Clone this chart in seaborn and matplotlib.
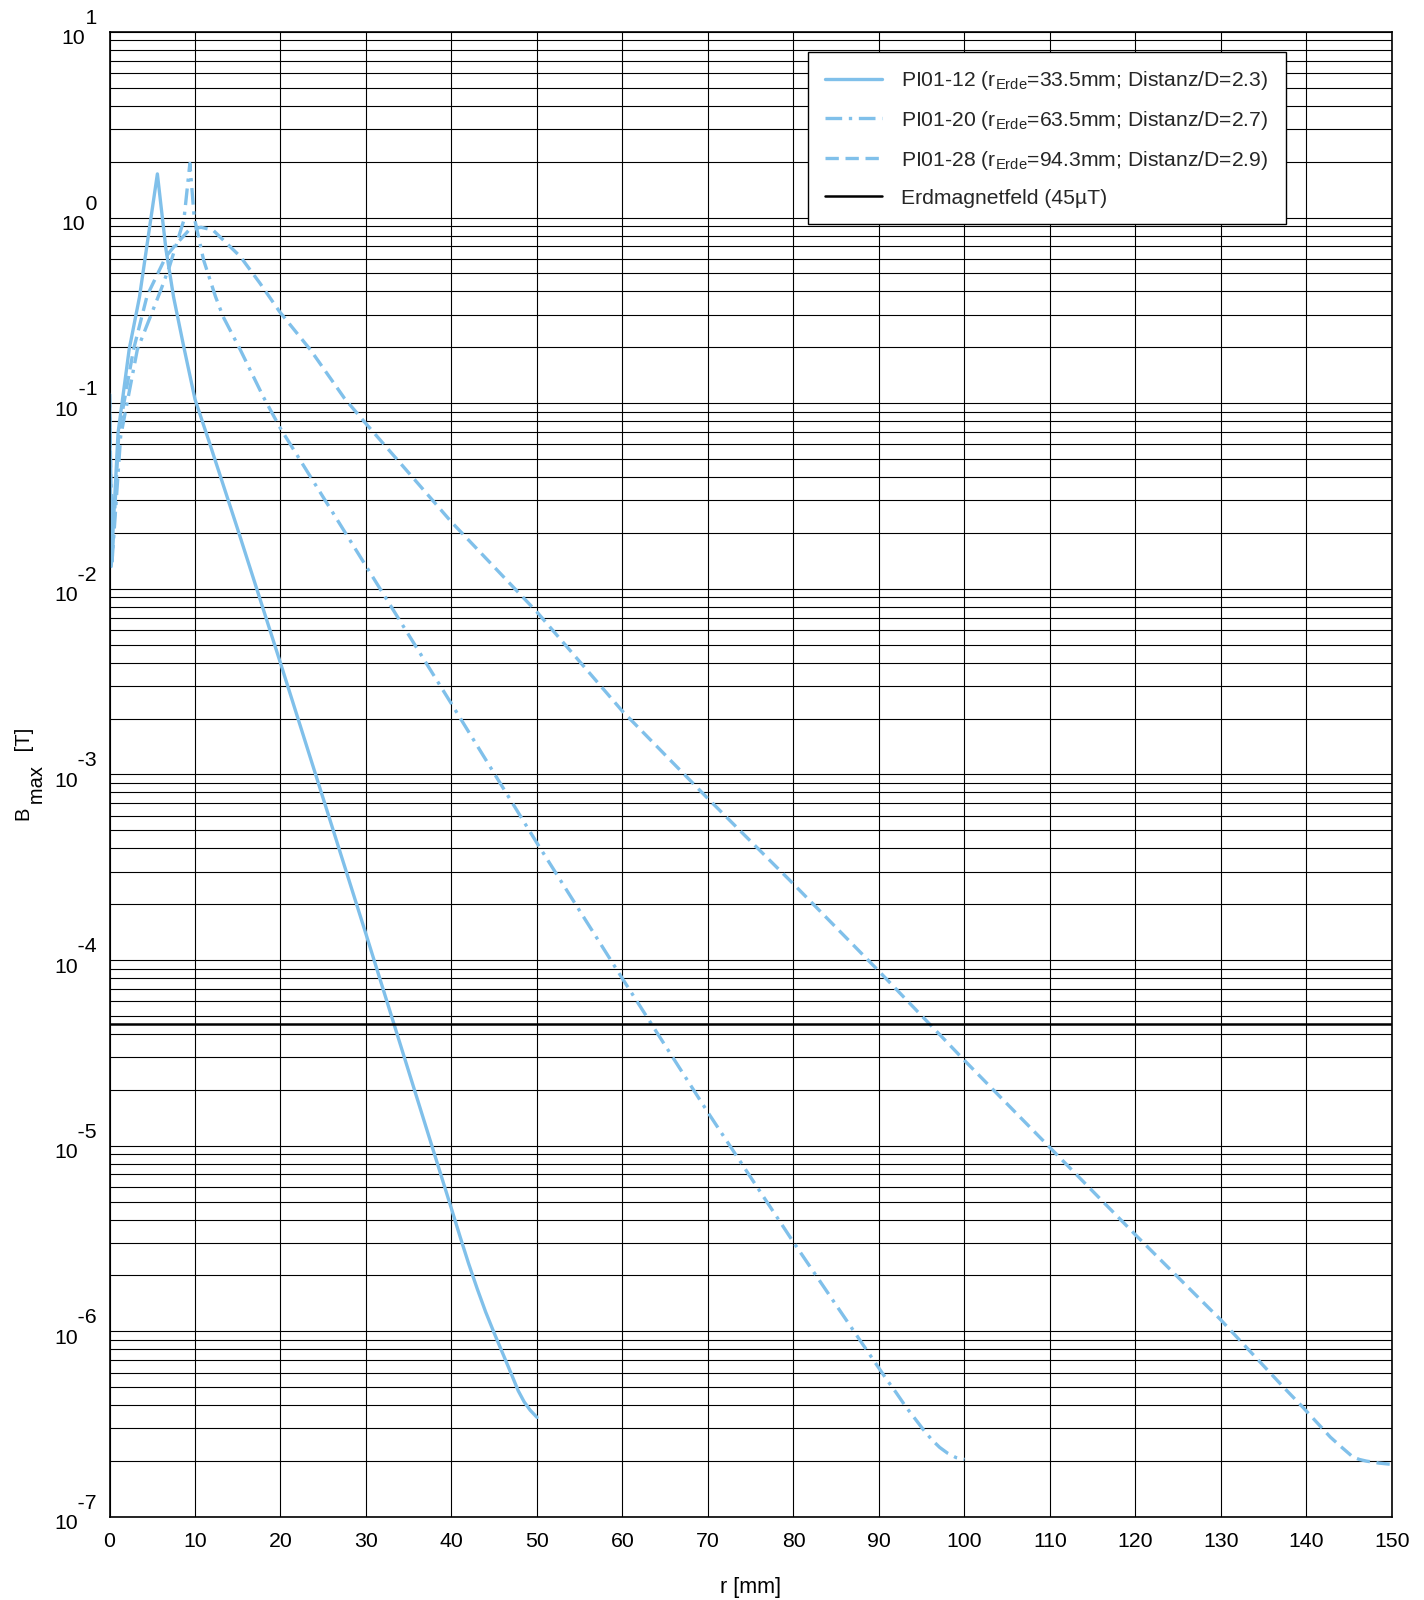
import matplotlib
matplotlib.use("Agg")
import numpy as np
import pandas as pd
import matplotlib.pyplot as plt
import matplotlib.transforms as mtransforms
import seaborn as sns
from matplotlib.ticker import LogLocator, NullFormatter

# ---------------- data ----------------
r_pi12 = [0, 0.2, 1.0, 2.3, 3.5, 4.6, 5.6, 6.6, 7.5, 8.7, 10, 11.6, 15, 20, 25, 30,
          35, 40, 41, 42, 43, 44, 45, 46, 47, 47.8, 48.5, 49.2, 50]
B_pi12 = [0.112, 0.0132, 0.0692, 0.195, 0.372, 0.832, 1.72, 0.676, 0.372, 0.200, 0.105,
          0.0631, 0.0209, 3.98e-3, 7.41e-4, 1.38e-4, 2.51e-5, 4.57e-6, 3.24e-6, 2.32e-6,
          1.70e-6, 1.27e-6, 9.77e-7, 7.59e-7, 5.89e-7, 4.79e-7, 4.17e-7, 3.76e-7, 3.44e-7]

r_pi20 = [0, 0.3, 1.3, 3.25, 6.0, 7.0, 8.7, 9.4, 9.9, 11.0, 12.4, 13.3, 15.3, 18, 20,
          30, 40, 50, 60, 70, 80, 90.9, 92, 93.2, 94.2, 95.2, 96.2, 97.1, 98, 99, 100]
B_pi20 = [0.112, 0.0141, 0.0661, 0.194, 0.407, 0.543, 0.970, 1.96, 1.01, 0.592, 0.375,
          0.292, 0.194, 0.108, 0.0731, 0.01327, 2.40e-3, 4.27e-4, 7.94e-5, 1.51e-5,
          3.02e-6, 5.50e-7, 4.68e-7, 3.89e-7, 3.39e-7, 2.95e-7, 2.60e-7, 2.37e-7,
          2.21e-7, 2.09e-7, 2.04e-7]

r_pi28 = [0, 0.3, 1.1, 2.8, 4.4, 6.6, 7.7, 9.3, 10.7, 12.1, 15.3, 17.6, 19.9, 23.5,
          27.5, 30, 40, 50, 60, 70, 80, 90, 100, 110, 120, 130, 137.3, 139.6, 141.6,
          142.8, 144, 145.4, 146.2, 147, 148.5, 150]
B_pi28 = [0.112, 0.0141, 0.0708, 0.194, 0.380, 0.617, 0.711, 0.857, 0.887, 0.857, 0.617,
          0.443, 0.311, 0.194, 0.106, 0.0776, 0.0229, 7.50e-3, 2.19e-3, 7.41e-4, 2.57e-4,
          8.71e-5, 2.88e-5, 9.77e-6, 3.31e-6, 1.15e-6, 5.01e-7, 3.89e-7, 3.09e-7,
          2.69e-7, 2.40e-7, 2.11e-7, 2.04e-7, 2.0e-7, 1.95e-7, 1.92e-7]

earth_field = 45e-6

series_labels = [
    r"PI01-12 (r$_{\mathregular{Erde}}$=33.5mm; Distanz/D=2.3)",
    r"PI01-20 (r$_{\mathregular{Erde}}$=63.5mm; Distanz/D=2.7)",
    r"PI01-28 (r$_{\mathregular{Erde}}$=94.3mm; Distanz/D=2.9)",
]
earth_label = "Erdmagnetfeld (45µT)"

x_ticks = list(range(0, 151, 10))
y_exponents = list(range(-7, 2))

# ---------------- style ----------------
sns.set_theme(style="white")
plt.rcParams["font.family"] = ["Liberation Sans", "DejaVu Sans"]
plt.rcParams["mathtext.default"] = "regular"

curve_color = "#80c0ea"
LW = 2.4

fig = plt.figure(figsize=(14.24, 16), dpi=100)
ax = fig.add_axes([0.0769, 0.0519, 0.9006, 0.9281])

sns.lineplot(x=r_pi12, y=B_pi12, ax=ax, color=curve_color, lw=LW,
             linestyle="-", label=series_labels[0], sort=False)
sns.lineplot(x=r_pi20, y=B_pi20, ax=ax, color=curve_color, lw=LW,
             linestyle=(0, (5, 2, 1, 2)), label=series_labels[1], sort=False)
sns.lineplot(x=r_pi28, y=B_pi28, ax=ax, color=curve_color, lw=LW,
             linestyle=(0, (4, 2)), label=series_labels[2], sort=False)
ax.axhline(earth_field, color="black", lw=1.8, label=earth_label)

ax.set_yscale("log")
ax.set_xlim(0, 150)
ax.set_ylim(1e-7, 1e1)

ax.set_xticks(x_ticks)
ax.set_xticklabels([str(t) for t in x_ticks])
ax.set_yticks([10.0 ** e for e in y_exponents])
ax.set_yticklabels([("    %d\n10" % e) for e in y_exponents])
ax.yaxis.set_minor_locator(LogLocator(base=10, subs=np.arange(2, 10), numticks=100))
ax.yaxis.set_minor_formatter(NullFormatter())

ax.grid(which="both", axis="both", color="black", lw=0.8)
ax.tick_params(which="both", length=0)
ax.tick_params(axis="x", labelsize=15.3, pad=10.5, colors="black")
ax.tick_params(axis="y", labelsize=15.3, pad=9, colors="black")
shift_up = mtransforms.ScaledTranslation(0, 6 / 100, fig.dpi_scale_trans)
for lbl in ax.get_yticklabels():
    lbl.set_multialignment("left")
    lbl.set_linespacing(1.1)
    lbl.set_transform(lbl.get_transform() + shift_up)

for sp in ax.spines.values():
    sp.set_color("black")
    sp.set_linewidth(1.2)

ax.set_xlabel("r [mm]", fontsize=15.5, labelpad=19, color="black")
ylab = ax.set_ylabel("B          [T]\n   max", fontsize=14.5, labelpad=5, color="black")
ylab.set_multialignment("left")
ylab.set_linespacing(0.62)

leg = ax.legend(loc="upper right", bbox_to_anchor=(0.917, 0.9865), fontsize=15.2,
                frameon=True, fancybox=False, shadow=False, framealpha=1,
                edgecolor="black", handlelength=2.7, handletextpad=0.9,
                labelspacing=0.8, borderpad=0.8, borderaxespad=0)
leg.get_frame().set_linewidth(1.0)

fig.savefig("out.png", dpi=100, facecolor="white")
